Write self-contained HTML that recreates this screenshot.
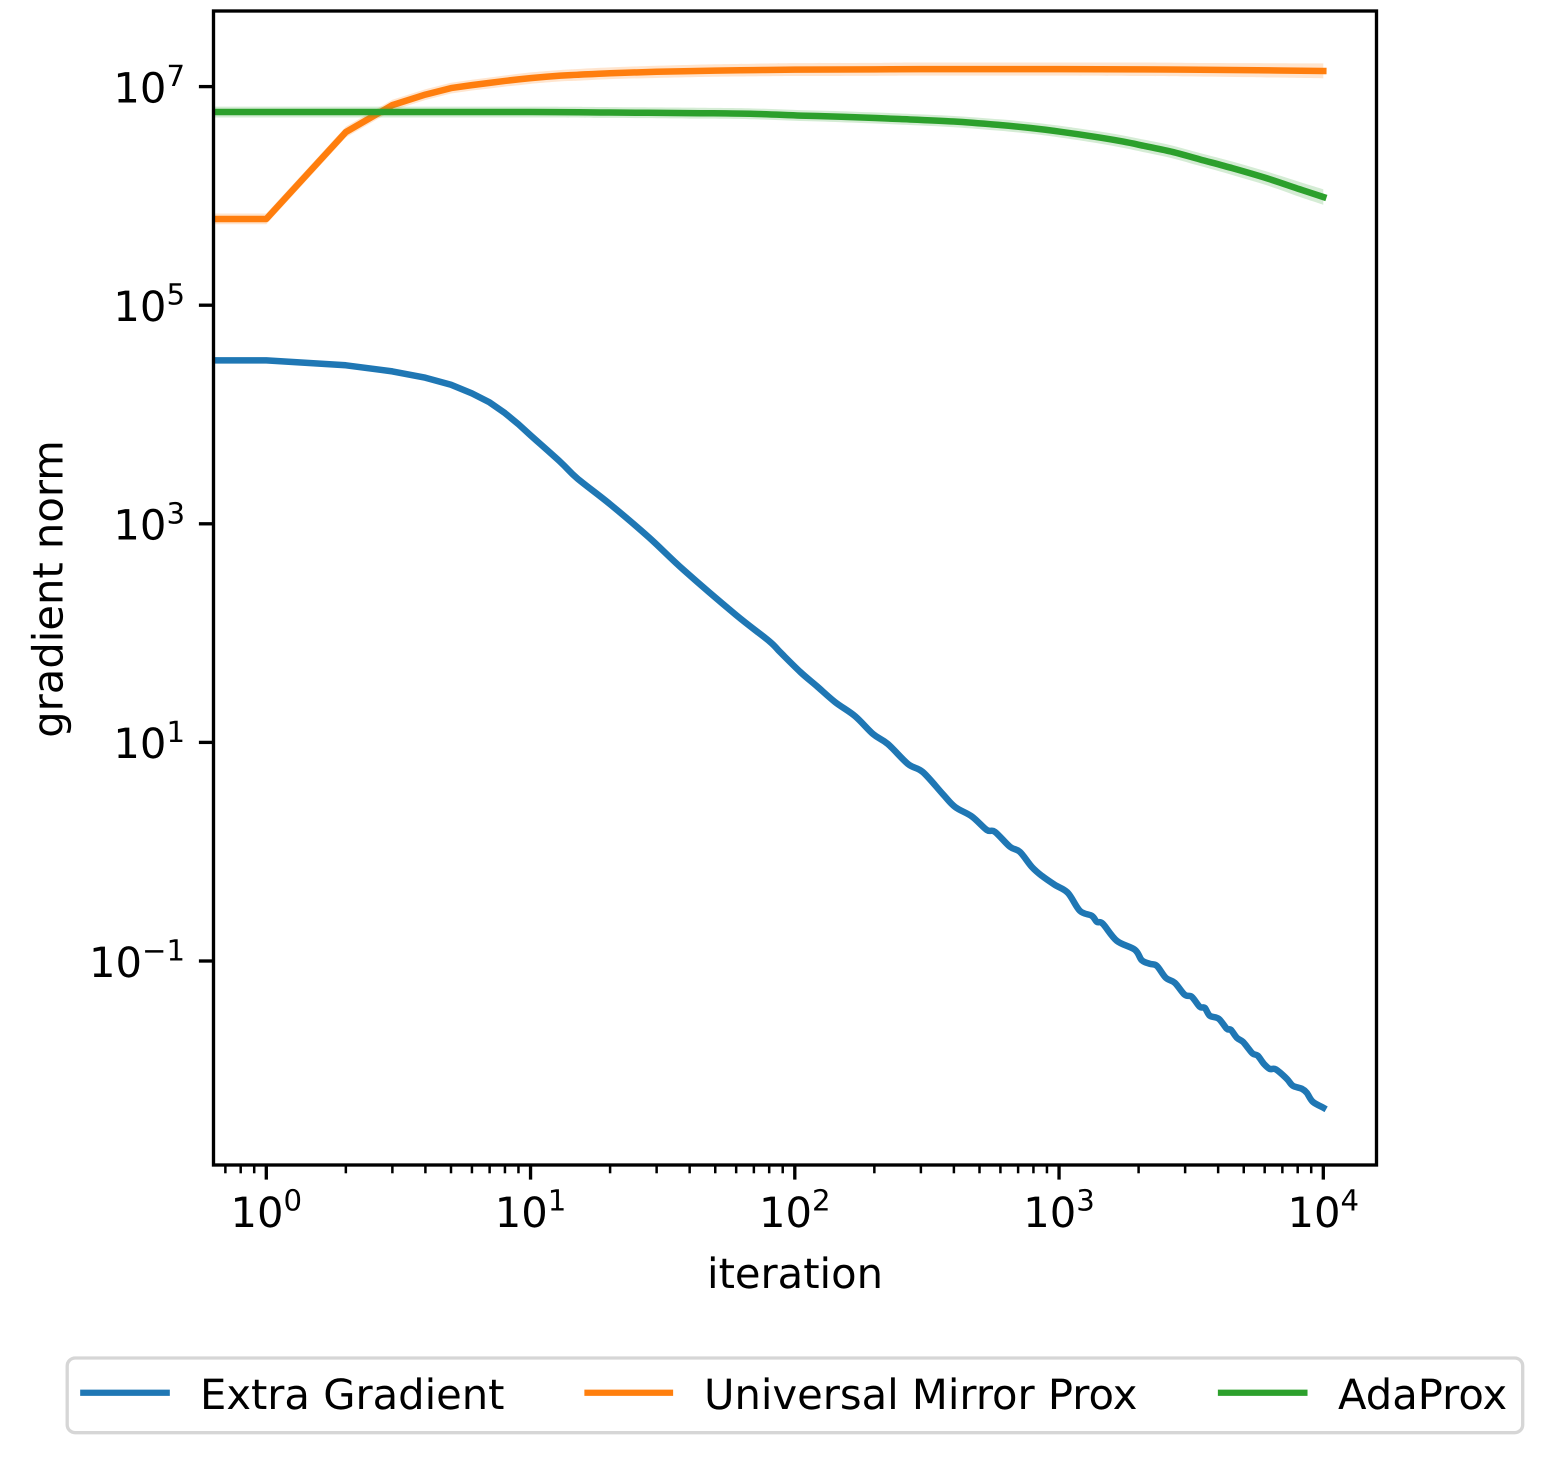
<!DOCTYPE html>
<html lang="en">
<head>
<meta charset="utf-8">
<title>Gradient norm vs iteration</title>
<style>
html,body{margin:0;padding:0;background:#fff;width:1552px;height:1461px;overflow:hidden}
svg{display:block}
text{font-family:"DejaVu Sans","Liberation Sans",sans-serif;fill:#000;text-rendering:geometricPrecision}
</style>
</head>
<body>
<svg id="chart" xmlns="http://www.w3.org/2000/svg" width="1552" height="1461" viewBox="0 0 1552 1461">
  <defs><clipPath id="axes-clip"><rect x="213.5" y="11" width="1163" height="1154"/></clipPath></defs>
  <rect x="213.5" y="11" width="1163" height="1154" fill="#fff"/>
  <g id="marks" clip-path="url(#axes-clip)"></g>
  <g id="ticks"></g>
  <rect x="213.5" y="11" width="1163" height="1154" fill="none" stroke="#000" stroke-width="3.33"/>
  <text x="795" y="1288" font-size="41.67" text-anchor="middle">iteration</text>
  <text transform="translate(62.7 589) rotate(-90)" font-size="41.67" text-anchor="middle">gradient norm</text>
  <g>
    <rect x="67.2" y="1358" width="1455.5" height="74.7" rx="8" ry="8" fill="#fff" stroke="#d6d6d6" stroke-width="3.33"/>
    <g>
      <line x1="83.3" x2="166.7" y1="1392.7" y2="1392.7" stroke="#1f77b4" stroke-width="6.25" stroke-linecap="square"/>
      <text x="200" y="1409" font-size="41.67">Extra Gradient</text>
    </g>
    <g>
      <line x1="587.5" x2="670" y1="1392.7" y2="1392.7" stroke="#ff7f0e" stroke-width="6.25" stroke-linecap="square"/>
      <text x="704" y="1409" font-size="41.67">Universal Mirror Prox</text>
    </g>
    <g>
      <line x1="1221" x2="1304.4" y1="1392.7" y2="1392.7" stroke="#2ca02c" stroke-width="6.25" stroke-linecap="square"/>
      <text x="1338" y="1409" font-size="41.67">AdaProx</text>
    </g>
  </g>
</svg>
<script>
const xMajorExponents = [0, 1, 2, 3, 4];
const yMajorExponents = [7, 5, 3, 1, -1];
const xMinorTicks = [0.7, 0.8, 0.9, 2, 3, 4, 5, 6, 7, 8, 9, 20, 30, 40, 50, 60, 70, 80, 90, 200, 300, 400, 500, 600, 700, 800, 900, 2000, 3000, 4000, 5000, 6000, 7000, 8000, 9000];

const extraGradientIterations = [0.5, 1, 2, 3, 4, 5, 6, 7, 8, 9, 10, 13, 15, 20, 28, 38, 60, 80, 88, 105, 121, 142, 169, 198, 225, 268, 305, 363, 404, 468, 533, 572, 652, 711, 789, 861, 964, 1080, 1199, 1331, 1390, 1464, 1654, 1935, 2057, 2205, 2344, 2535, 2742, 2990, 3178, 3408, 3560, 3718, 4022, 4312, 4465, 4704, 4957, 5177, 5408, 5649, 5951, 6270, 6607, 7269, 7662, 8285, 8653, 9118, 10000];
const extraGradientValues = [3.13e4, 3.13e4, 2.82e4, 2.48e4, 2.17e4, 1.87e4, 1.56e4, 1.29e4, 1.03e4, 8.14e3, 6.45e3, 3.66e3, 2.61e3, 1.51e3, 754, 377, 146, 84.5, 67.0, 44.0, 32.8, 23.4, 17.4, 11.9, 9.67, 6.35, 5.36, 3.37, 2.57, 2.10, 1.58, 1.52, 1.11, 0.996, 0.726, 0.601, 0.497, 0.420, 0.288, 0.259, 0.228, 0.219, 0.153, 0.127, 0.1015, 0.0943, 0.0904, 0.0702, 0.0632, 0.0491, 0.0471, 0.0381, 0.0373, 0.0316, 0.0296, 0.0240, 0.0235, 0.0199, 0.0183, 0.0161, 0.0142, 0.0136, 0.0115, 0.0103, 0.0102, 0.00838, 0.00723, 0.00679, 0.00624, 0.00516, 0.00455];

const mirrorProxIterations = [0.5, 1, 2, 3, 4, 5, 6, 7, 8, 9, 10, 13, 15, 20, 30, 50, 70, 100, 200, 300, 1000, 2000, 3000, 5000, 10000];
const mirrorProxValues = [6.15e5, 6.15e5, 3.84e6, 6.77e6, 8.45e6, 9.69e6, 1.032e7, 1.081e7, 1.127e7, 1.164e7, 1.196e7, 1.26e7, 1.282e7, 1.326e7, 1.366e7, 1.40e7, 1.415e7, 1.43e7, 1.439e7, 1.445e7, 1.445e7, 1.439e7, 1.43e7, 1.415e7, 1.39e7];
const mirrorProxUpper = [6.9e5, 6.9e5, 4.3e6, 7.58e6, 9.46e6, 1.085e7, 1.156e7, 1.21e7, 1.265e7, 1.31e7, 1.35e7, 1.42e7, 1.45e7, 1.50e7, 1.55e7, 1.60e7, 1.62e7, 1.64e7, 1.65e7, 1.66e7, 1.66e7, 1.66e7, 1.65e7, 1.64e7, 1.63e7];
const mirrorProxLower = [5.5e5, 5.5e5, 3.43e6, 6.05e6, 7.55e6, 8.65e6, 9.2e6, 9.62e6, 1.0e7, 1.03e7, 1.06e7, 1.115e7, 1.13e7, 1.17e7, 1.20e7, 1.23e7, 1.24e7, 1.25e7, 1.255e7, 1.26e7, 1.26e7, 1.25e7, 1.24e7, 1.22e7, 1.19e7];

const adaProxIterations = [0.5, 1, 10, 20, 44, 70, 105, 150, 250, 400, 597, 780, 1000, 1427, 1750, 2111, 2700, 3408, 4540, 6110, 8140, 10000];
const adaProxValues = [5.85e6, 5.85e6, 5.85e6, 5.79e6, 5.71e6, 5.63e6, 5.43e6, 5.30e6, 5.05e6, 4.79e6, 4.45e6, 4.18e6, 3.88e6, 3.42e6, 3.14e6, 2.86e6, 2.52e6, 2.16e6, 1.79e6, 1.45e6, 1.15e6, 9.77e5];
const adaProxUpper = [6.55e6, 6.55e6, 6.55e6, 6.49e6, 6.40e6, 6.31e6, 6.09e6, 5.95e6, 5.68e6, 5.39e6, 5.02e6, 4.72e6, 4.39e6, 3.88e6, 3.57e6, 3.26e6, 2.88e6, 2.47e6, 2.06e6, 1.67e6, 1.34e6, 1.15e6];
const adaProxLower = [5.22e6, 5.22e6, 5.22e6, 5.17e6, 5.09e6, 5.02e6, 4.84e6, 4.72e6, 4.49e6, 4.25e6, 3.94e6, 3.70e6, 3.43e6, 3.01e6, 2.75e6, 2.50e6, 2.20e6, 1.88e6, 1.55e6, 1.25e6, 9.8e5, 8.3e5];

const SVG_NS = 'http://www.w3.org/2000/svg';
const SMOOTH_FROM_ITERATION = 10;
function xScale(v) { return 266.3 + 264.25 * Math.log10(v); }
function yScale(v) { return 86.6 + 109.3 * (7 - Math.log10(v)); }
function make(tag, attrs) {
  const el = document.createElementNS(SVG_NS, tag);
  Object.keys(attrs).forEach(function (k) { el.setAttribute(k, attrs[k]); });
  return el;
}
function linePath(xs, ys) {
  const px = xs.map(xScale);
  const py = ys.map(yScale);
  let d = 'M' + px[0].toFixed(2) + ' ' + py[0].toFixed(2);
  for (let i = 1; i < xs.length; i++) {
    if (Math.min(xs[i - 1], xs[i]) >= SMOOTH_FROM_ITERATION) {
      const a = Math.max(i - 2, 0);
      const b = Math.min(i + 1, xs.length - 1);
      const c1x = px[i - 1] + (px[i] - px[a]) / 6;
      const c1y = py[i - 1] + (py[i] - py[a]) / 6;
      const c2x = px[i] - (px[b] - px[i - 1]) / 6;
      const c2y = py[i] - (py[b] - py[i - 1]) / 6;
      d += 'C' + c1x.toFixed(2) + ' ' + c1y.toFixed(2) + ' ' + c2x.toFixed(2) + ' ' + c2y.toFixed(2) + ' ' + px[i].toFixed(2) + ' ' + py[i].toFixed(2);
    } else {
      d += 'L' + px[i].toFixed(2) + ' ' + py[i].toFixed(2);
    }
  }
  return d;
}
function bandPath(xs, upper, lower) {
  const back = linePath(xs.slice().reverse(), lower.slice().reverse());
  return linePath(xs, upper) + 'L' + back.slice(1) + 'Z';
}
const marks = document.getElementById('marks');
const ticks = document.getElementById('ticks');

function drawLine(xs, ys, color, name) {
  const p = make('path', { d: linePath(xs, ys), fill: 'none', stroke: color, 'stroke-width': 6.5, 'stroke-linecap': 'square', 'stroke-linejoin': 'round' });
  
  
  marks.appendChild(p);
}
function drawBand(xs, upper, lower, color, name) {
  const p = make('path', { d: bandPath(xs, upper, lower), fill: color, 'fill-opacity': 0.2, stroke: 'none' });
  
  
  marks.appendChild(p);
}

drawLine(extraGradientIterations, extraGradientValues, '#1f77b4', 'extra-gradient-line');
drawLine(mirrorProxIterations, mirrorProxValues, '#ff7f0e', 'universal-mirror-prox-line');
drawBand(mirrorProxIterations, mirrorProxUpper, mirrorProxLower, '#ff7f0e', 'universal-mirror-prox-band');
drawLine(adaProxIterations, adaProxValues, '#2ca02c', 'adaprox-line');
drawBand(adaProxIterations, adaProxUpper, adaProxLower, '#2ca02c', 'adaprox-band');

function powerLabel(exp, attrs) {
  const t = make('text', Object.assign({ 'font-size': 41.67 }, attrs));
  const base = make('tspan', {});
  base.textContent = '10';
  const sup = make('tspan', { dy: -16.3, 'font-size': 29.17 });
  sup.textContent = String(exp).replace('-', '\u2212');
  t.appendChild(base);
  t.appendChild(sup);
  return t;
}

xMajorExponents.forEach(function (e) {
  const x = xScale(Math.pow(10, e));
  const tick = make('line', { x1: x, x2: x, y1: 1165, y2: 1179.6, stroke: '#000', 'stroke-width': 3.33 });
  
  
  ticks.appendChild(tick);
  const label = powerLabel(e, { x: x, y: 1227, 'text-anchor': 'middle' });
  
  
  ticks.appendChild(label);
});
xMinorTicks.forEach(function (v) {
  const x = xScale(v);
  const tick = make('line', { x1: x, x2: x, y1: 1165, y2: 1173.3, stroke: '#000', 'stroke-width': 2.5 });
  
  
  ticks.appendChild(tick);
});
yMajorExponents.forEach(function (e) {
  const y = yScale(Math.pow(10, e));
  const tick = make('line', { x1: 198.9, x2: 213.5, y1: y, y2: y, stroke: '#000', 'stroke-width': 3.33 });
  
  
  ticks.appendChild(tick);
  const label = powerLabel(e, { x: 185, y: y + 15.8, 'text-anchor': 'end' });
  
  
  ticks.appendChild(label);
});
</script>
</body>
</html>
